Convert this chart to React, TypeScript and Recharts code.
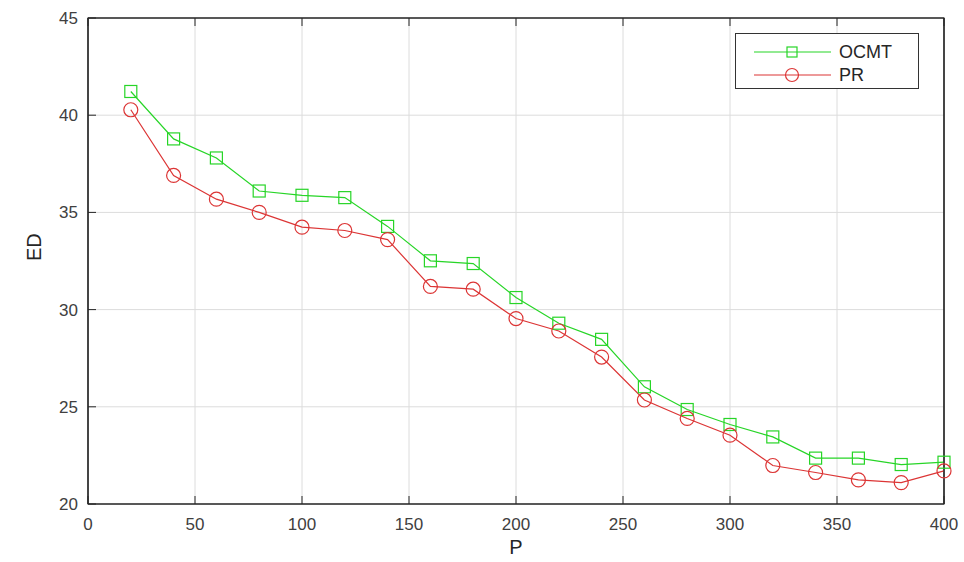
import { LineChart, Line, XAxis, YAxis, CartesianGrid, ReferenceArea } from 'recharts';

const pValues = [20, 40, 60, 80, 100, 120, 140, 160, 180, 200, 220, 240, 260, 280, 300, 320, 340, 360, 380, 400];
const ocmt = [41.22, 38.78, 37.8, 36.1, 35.88, 35.76, 34.28, 32.51, 32.37, 30.62, 29.3, 28.47, 26.03, 24.86, 24.09, 23.45, 22.36, 22.36, 22.03, 22.15];
const pr = [40.28, 36.9, 35.68, 35.0, 34.24, 34.07, 33.6, 31.19, 31.05, 29.54, 28.9, 27.56, 25.35, 24.4, 23.54, 21.98, 21.62, 21.24, 21.1, 21.7];
const xTicks = [0, 50, 100, 150, 200, 250, 300, 350, 400];
const yTicks = [20, 25, 30, 35, 40, 45];

const data = pValues.map((p, i) => ({ p, OCMT: ocmt[i], PR: pr[i] }));

const GREEN = '#27d527';
const RED = '#dc3535';
const AXIS = '#262626';
const FONT = '"Liberation Sans", Arial, sans-serif';

const SquareDot = (props: any) => {
  const { cx, cy } = props;
  if (cx == null || cy == null) return null;
  return <rect x={cx - 6} y={cy - 6} width={12} height={12} fill="none" stroke={GREEN} strokeWidth={1.2} />;
};

// ticks drawn inward, matlab style
const BottomTick = (props: any) => {
  const { x, y, payload } = props;
  return (
    <g>
      <line x1={x} y1={y - 12} x2={x} y2={y - 20} stroke={AXIS} strokeWidth={1} />
      <text x={x} y={y} dy={14} textAnchor="middle" fontSize={17} fill="#404040" fontFamily={FONT}>
        {payload.value}
      </text>
    </g>
  );
};

const LeftTick = (props: any) => {
  const { x, y, payload } = props;
  return (
    <g>
      <line x1={x + 10} y1={y} x2={x + 18} y2={y} stroke={AXIS} strokeWidth={1} />
      <text x={x} y={y} dy={6} textAnchor="end" fontSize={17} fill="#404040" fontFamily={FONT}>
        {payload.value}
      </text>
    </g>
  );
};

const TopTick = (props: any) => {
  const { x, y } = props;
  return <line x1={x} y1={y} x2={x} y2={y + 8} stroke={AXIS} strokeWidth={1} />;
};

const RightTick = (props: any) => {
  const { x, y } = props;
  return <line x1={x} y1={y} x2={x - 8} y2={y} stroke={AXIS} strokeWidth={1} />;
};

const LegendBox = () => (
  <div
    style={{
      position: 'absolute',
      left: 735,
      top: 33,
      width: 184,
      height: 56,
      border: '1px solid #333',
      background: '#fff',
      boxSizing: 'border-box',
    }}
  >
    <svg width={182} height={54} style={{ display: 'block' }}>
      <line x1={18} y1={18} x2={95} y2={18} stroke={GREEN} strokeWidth={1.2} />
      <rect x={51} y={13} width={10} height={10} fill="none" stroke={GREEN} strokeWidth={1.2} />
      <text x={103} y={24} fontFamily={FONT} fontSize={18} fill={AXIS}>OCMT</text>
      <line x1={18} y1={41} x2={95} y2={41} stroke={RED} strokeWidth={1.2} />
      <circle cx={56} cy={41} r={6.5} fill="none" stroke={RED} strokeWidth={1.2} />
      <text x={103} y={47} fontFamily={FONT} fontSize={18} fill={AXIS}>PR</text>
    </svg>
  </div>
);

export default function App() {
  return (
    <div style={{ position: 'absolute', left: 0, top: 0, width: 964, height: 562, background: '#fff' }}>
      <LineChart width={964} height={562} data={data} margin={{ top: 17, right: 19, bottom: 28, left: 28 }}>
        <CartesianGrid stroke="#dcdcdc" strokeWidth={1} />
        <XAxis
          dataKey="p"
          type="number"
          domain={[0, 400]}
          ticks={xTicks}
          tick={<BottomTick />}
          tickLine={false}
          tickSize={0}
          tickMargin={12}
          height={30}
          axisLine={{ stroke: AXIS, strokeWidth: 1.2 }}
          label={{ value: 'P', position: 'insideBottom', offset: -20, fontSize: 20, fill: AXIS, fontFamily: FONT }}
        />
        <XAxis
          xAxisId="top"
          orientation="top"
          dataKey="p"
          type="number"
          domain={[0, 400]}
          ticks={xTicks}
          tick={<TopTick />}
          tickLine={false}
          tickSize={0}
          tickMargin={0}
          height={1}
          axisLine={{ stroke: AXIS, strokeWidth: 1.2 }}
        />
        <YAxis
          type="number"
          domain={[20, 45]}
          ticks={yTicks}
          tick={<LeftTick />}
          tickLine={false}
          tickSize={0}
          tickMargin={10}
          width={60}
          axisLine={{ stroke: AXIS, strokeWidth: 1.2 }}
          label={{ value: 'ED', angle: -90, position: 'insideLeft', offset: 6, fontSize: 20, fill: AXIS, fontFamily: FONT }}
        />
        <YAxis
          yAxisId="right"
          orientation="right"
          type="number"
          domain={[20, 45]}
          ticks={yTicks}
          tick={<RightTick />}
          tickLine={false}
          tickSize={0}
          tickMargin={0}
          width={1}
          axisLine={{ stroke: AXIS, strokeWidth: 1.2 }}
        />
        <ReferenceArea x1={0} x2={400} y1={20} y2={45} fill="none" stroke={AXIS} strokeWidth={1.2} ifOverflow="visible" />
        <Line
          dataKey="OCMT"
          stroke={GREEN}
          strokeWidth={1.2}
          dot={<SquareDot />}
          activeDot={false}
          isAnimationActive={false}
        />
        <Line
          dataKey="PR"
          stroke={RED}
          strokeWidth={1.2}
          dot={{ r: 7, fill: 'none', stroke: RED, strokeWidth: 1.2 }}
          activeDot={false}
          isAnimationActive={false}
        />
      </LineChart>
      <LegendBox />
    </div>
  );
}
